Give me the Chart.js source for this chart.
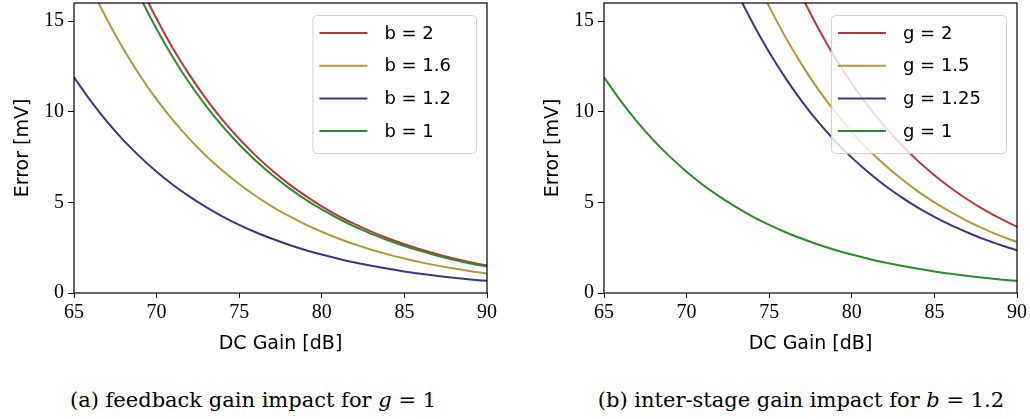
<!DOCTYPE html>
<html>
<head>
<meta charset="utf-8">
<script src="https://cdn.jsdelivr.net/npm/chart.js@4.4.1/dist/chart.umd.min.js"></script>
<style>
    html, body { margin: 0; padding: 0; background: #ffffff; }
    #pagina { position: relative; width: 1030px; height: 419px; overflow: hidden; }
    canvas { position: absolute; top: 0; }
    .legenda-fig {
        position: absolute;
        top: 386px;
        font-family: "DejaVu Serif", serif;
        font-size: 21px;
        line-height: 28px;
        text-align: center;
        color: #000;
        white-space: nowrap;
    }
</style>
</head>
<body>
<div id="pagina">
    <canvas id="graficoA" width="500" height="360" style="left:0px"></canvas>
    <canvas id="graficoB" width="500" height="360" style="left:530px"></canvas>
    <div class="legenda-fig" style="left:0px; width:506px;">(a) feedback gain impact for <i>g</i> = 1</div>
    <div class="legenda-fig" style="left:560px; width:482px;">(b) inter-stage gain impact for <i>b</i> = 1.2</div>
</div>

<script>
// ============================================
// DADOS
// ============================================

// eixo x: ganho DC [dB]
const ganhoDC = [65, 66, 67, 68, 69, 70, 71, 72, 73, 74, 75, 76, 77,
                 78, 79, 80, 81, 82, 83, 84, 85, 86, 87, 88, 89, 90];

// (a) erro [mV] para g = 1, variando b
const rotulosA = ['b = 2', 'b = 1.6', 'b = 1.2', 'b = 1'];
const erroB2  = [26.9, 23.98, 21.37, 19.04, 16.97, 15.13, 13.48, 12.02, 10.71, 9.54, 8.51, 7.58, 6.76,
                 6.02, 5.37, 4.78, 4.26, 3.80, 3.39, 3.02, 2.69, 2.40, 2.14, 1.90, 1.70, 1.51];
const erroB16 = [19.0, 16.93, 15.09, 13.45, 11.99, 10.68, 9.52, 8.49, 7.56, 6.74, 6.01, 5.35, 4.77,
                 4.25, 3.79, 3.38, 3.01, 2.68, 2.39, 2.13, 1.90, 1.69, 1.51, 1.35, 1.20, 1.07];
const erroB12 = [11.9, 10.61, 9.45, 8.42, 7.51, 6.69, 5.96, 5.32, 4.74, 4.22, 3.76, 3.35, 2.99,
                 2.66, 2.37, 2.12, 1.89, 1.68, 1.50, 1.34, 1.19, 1.06, 0.94, 0.84, 0.75, 0.67];
const erroB1  = [25.9, 23.08, 20.57, 18.33, 16.34, 14.56, 12.98, 11.57, 10.31, 9.19, 8.19, 7.30, 6.51,
                 5.80, 5.17, 4.61, 4.11, 3.66, 3.26, 2.91, 2.59, 2.31, 2.06, 1.83, 1.63, 1.46];

// (b) erro [mV] para b = 1.2, variando g
const rotulosB = ['g = 2', 'g = 1.5', 'g = 1.25', 'g = 1'];
const erroG2   = [65.0, 57.9, 51.6, 46.0, 41.0, 36.5, 32.6, 29.0, 25.9, 23.1, 20.6, 18.3, 16.33,
                  14.55, 12.97, 11.56, 10.30, 9.18, 8.18, 7.29, 6.50, 5.79, 5.16, 4.60, 4.10, 3.65];
const erroG15  = [50.0, 44.6, 39.7, 35.4, 31.5, 28.1, 25.1, 22.3, 19.9, 17.7, 15.8, 14.09, 12.56,
                  11.19, 9.98, 8.89, 7.92, 7.06, 6.30, 5.61, 5.00, 4.46, 3.97, 3.54, 3.15, 2.81];
const erroG125 = [42.0, 37.4, 33.4, 29.7, 26.5, 23.6, 21.1, 18.8, 16.7, 14.9, 13.28, 11.84, 10.55,
                  9.40, 8.38, 7.47, 6.66, 5.93, 5.29, 4.71, 4.20, 3.74, 3.34, 2.97, 2.65, 2.36];
const erroG1   = [11.9, 10.61, 9.45, 8.42, 7.51, 6.69, 5.96, 5.32, 4.74, 4.22, 3.76, 3.35, 2.99,
                  2.66, 2.37, 2.12, 1.89, 1.68, 1.50, 1.34, 1.19, 1.06, 0.94, 0.84, 0.75, 0.67];

const ticksX = [65, 70, 75, 80, 85, 90];
const ticksY = [0, 5, 10, 15];

const cores = ['#b5393c', '#b09a36', '#3e3582', '#2e8b2b'];

const fonteSans = '"DejaVu Sans", sans-serif';
const fonteSerif = '"Liberation Serif", serif';

// ============================================
// PLUGINS (moldura e legenda interna)
// ============================================

const moldura = {
    id: 'moldura',
    afterDatasetsDraw(chart) {
        const { ctx, chartArea } = chart;
        ctx.save();
        ctx.strokeStyle = '#000';
        ctx.lineWidth = 1.2;
        ctx.strokeRect(chartArea.left, chartArea.top,
                       chartArea.right - chartArea.left, chartArea.bottom - chartArea.top);
        ctx.restore();
    }
};

const legendaInterna = {
    id: 'legendaInterna',
    afterDraw(chart) {
        const { ctx, chartArea } = chart;
        const datasets = chart.data.datasets;
        ctx.save();
        ctx.font = '18px ' + fonteSans;
        const maxTexto = Math.max(...datasets.map(d => ctx.measureText(d.label).width));
        const largura = 72 + maxTexto + 25;
        const altura = 138;
        const x = chartArea.right - 11 - largura;
        const y = chartArea.top + 12;

        ctx.beginPath();
        ctx.roundRect(x + 0.5, y + 0.5, largura, altura, 4);
        ctx.fillStyle = 'rgba(255,255,255,0.8)';
        ctx.fill();
        ctx.strokeStyle = '#d0d0d0';
        ctx.lineWidth = 1;
        ctx.stroke();

        datasets.forEach((d, i) => {
            const yLinha = y + 18 + i * 32.7;
            ctx.beginPath();
            ctx.moveTo(x + 7, yLinha);
            ctx.lineTo(x + 55, yLinha);
            ctx.strokeStyle = d.borderColor;
            ctx.lineWidth = 2;
            ctx.stroke();
            ctx.fillStyle = '#000';
            ctx.textBaseline = 'middle';
            ctx.fillText(d.label, x + 72, yLinha + 1);
        });
        ctx.restore();
    }
};

// ============================================
// FUNÇÕES DE GRÁFICOS
// ============================================

function montarSerie(valores) {
    return ganhoDC.map((g, i) => ({ x: g, y: valores[i] }));
}

function criarGrafico(idCanvas, rotulos, series) {
    const ctx = document.getElementById(idCanvas).getContext('2d');

    const datasets = series.map((valores, i) => ({
        label: rotulos[i],
        data: montarSerie(valores),
        borderColor: cores[i],
        borderWidth: 2,
        pointRadius: 0,
        fill: false,
        cubicInterpolationMode: 'monotone',
        order: series.length - i
    }));

    return new Chart(ctx, {
        type: 'line',
        data: { datasets: datasets },
        options: {
            responsive: false,
            animation: false,
            devicePixelRatio: 1,
            layout: {
                padding: { top: 3, right: 13, left: 0, bottom: 0 }
            },
            plugins: {
                legend: { display: false },
                tooltip: { enabled: false }
            },
            scales: {
                x: {
                    type: 'linear',
                    min: 65,
                    max: 90,
                    afterBuildTicks: escala => {
                        escala.ticks = ticksX.map(v => ({ value: v }));
                    },
                    afterFit: escala => {
                        escala.height = 67;
                        escala.paddingLeft = 0;
                        escala.paddingRight = 0;
                    },
                    ticks: {
                        color: '#000',
                        padding: 3,
                        maxRotation: 0,
                        font: { family: fonteSerif, size: 20 }
                    },
                    grid: {
                        drawOnChartArea: false,
                        drawTicks: true,
                        tickLength: 5,
                        color: '#000'
                    },
                    border: { display: false },
                    title: {
                        display: true,
                        text: 'DC Gain [dB]',
                        color: '#000',
                        padding: { top: 0, bottom: 5 },
                        font: { family: fonteSans, size: 19 }
                    }
                },
                y: {
                    min: 0,
                    max: 16,
                    afterBuildTicks: escala => {
                        escala.ticks = ticksY.map(v => ({ value: v }));
                    },
                    afterFit: escala => {
                        escala.width = 74;
                        escala.paddingTop = 0;
                        escala.paddingBottom = 0;
                    },
                    ticks: {
                        color: '#000',
                        padding: 4,
                        font: { family: fonteSerif, size: 20 }
                    },
                    grid: {
                        drawOnChartArea: false,
                        drawTicks: true,
                        tickLength: 6,
                        color: '#000'
                    },
                    border: { display: false },
                    title: {
                        display: true,
                        text: 'Error [mV]',
                        color: '#000',
                        padding: { top: 12, bottom: 0 },
                        font: { family: fonteSans, size: 19 }
                    }
                }
            }
        },
        plugins: [moldura, legendaInterna]
    });
}

criarGrafico('graficoA', rotulosA, [erroB2, erroB16, erroB12, erroB1]);
criarGrafico('graficoB', rotulosB, [erroG2, erroG15, erroG125, erroG1]);
</script>
</body>
</html>
